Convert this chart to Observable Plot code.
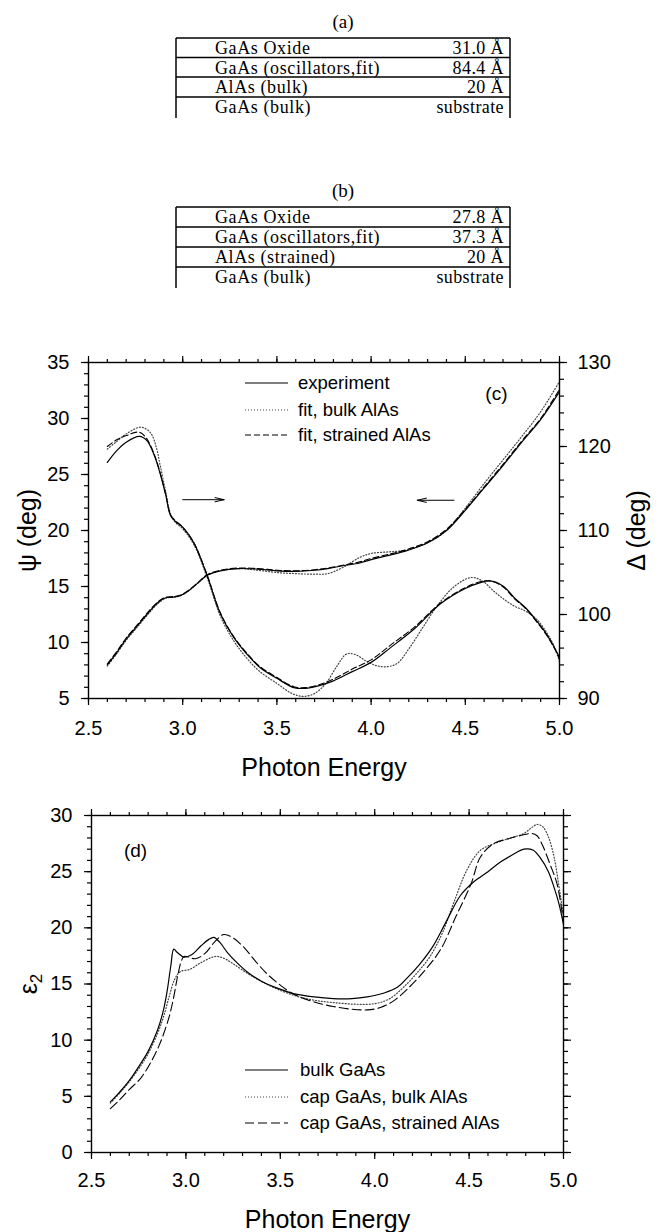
<!DOCTYPE html>
<html><head><meta charset="utf-8">
<script src="https://cdn.jsdelivr.net/npm/d3@7"></script>
<script src="https://cdn.jsdelivr.net/npm/@observablehq/plot@0.6"></script>
<style>
body{margin:0;background:#fff;}
#root{position:relative;width:663px;height:1232px;overflow:hidden;background:#fff;}
</style></head><body><div id="root"></div>
<script>
// ---------- tables ----------
const tableATitle = "(a)";
const tableALeft = ["GaAs Oxide", "GaAs (oscillators,fit)", "AlAs (bulk)", "GaAs (bulk)"];
const tableARight = ["31.0 Å", "84.4 Å", "20 Å", "substrate"];
const tableBTitle = "(b)";
const tableBLeft = ["GaAs Oxide", "GaAs (oscillators,fit)", "AlAs (strained)", "GaAs (bulk)"];
const tableBRight = ["27.8 Å", "37.3 Å", "20 Å", "substrate"];

// ---------- panel (c): Psi and Delta vs photon energy ----------
const psiE = [2.60,2.65,2.70,2.76,2.82,2.87,2.91,2.95,2.99,3.03,3.08,3.13,3.20,3.30,3.40,3.50,3.60,3.70,3.77,3.85,3.94,4.00,4.10,4.19,4.30,4.40,4.50,4.60,4.70,4.80,4.90,5.00];
const psiExp = [8.0,9.1,10.3,11.5,12.7,13.6,14.0,14.05,14.2,14.6,15.3,16.0,16.4,16.6,16.55,16.4,16.35,16.45,16.6,16.85,17.1,17.4,17.8,18.2,18.9,20.0,21.8,23.8,25.8,27.9,29.9,32.4];
const psiBulk = [7.9,9.0,10.2,11.4,12.6,13.5,13.95,14.05,14.2,14.6,15.3,16.0,16.4,16.6,16.45,16.25,16.15,16.1,16.15,16.7,17.6,17.95,18.1,18.25,18.9,20.0,22.0,24.2,26.3,28.4,30.6,33.3];
const psiStrained = [8.1,9.2,10.4,11.6,12.8,13.65,14.05,14.1,14.25,14.65,15.35,16.05,16.45,16.65,16.6,16.45,16.4,16.5,16.65,16.9,17.2,17.5,17.9,18.3,19.0,20.1,21.9,23.9,25.9,28.0,30.0,32.6];

const deltaE = [2.60,2.65,2.70,2.77,2.81,2.85,2.88,2.91,2.935,2.96,3.00,3.06,3.13,3.20,3.27,3.34,3.41,3.50,3.59,3.65,3.72,3.80,3.90,4.00,4.10,4.23,4.37,4.50,4.58,4.63,4.70,4.76,4.82,4.88,4.93,4.97,5.00];
const deltaExp = [118.1,119.5,120.5,121.2,120.7,118.9,116.8,114.2,111.8,111.1,110.4,108.5,104.6,100.1,97.3,95.3,93.7,92.4,91.3,91.2,91.5,92.1,93.2,94.3,96.0,98.3,101.3,103.1,103.8,104.0,103.4,102.0,100.8,99.2,97.7,96.2,94.9];
const deltaStrained = [120.0,120.8,121.3,121.7,120.9,119.0,116.9,114.3,111.9,111.2,110.4,108.5,104.7,100.2,97.4,95.4,93.8,92.5,91.4,91.3,91.6,92.3,93.5,94.6,96.3,98.5,101.4,103.2,103.9,104.0,103.3,101.9,100.7,99.1,97.6,96.1,94.7];
const deltaBulkE = [2.60,2.65,2.70,2.78,2.83,2.86,2.88,2.91,2.935,2.96,3.00,3.06,3.13,3.20,3.27,3.34,3.41,3.50,3.58,3.64,3.70,3.76,3.82,3.87,3.92,3.97,4.03,4.09,4.14,4.20,4.27,4.35,4.44,4.53,4.59,4.65,4.70,4.76,4.82,4.88,4.93,4.97,5.00];
const deltaBulk = [119.7,120.6,121.5,122.3,121.6,119.9,117.8,114.6,112.0,111.0,110.2,108.3,104.4,99.8,96.9,94.8,93.2,91.8,90.6,90.25,90.6,91.8,93.9,95.3,95.2,94.5,93.9,93.8,94.2,95.9,98.3,101.0,103.3,104.4,104.0,102.8,101.9,101.0,100.4,99.4,97.9,96.3,94.4];

const legendC = ["experiment", "fit, bulk AlAs", "fit, strained AlAs"];
const arrowsC = [{x1: 3.00, x2: 3.22, y: 22.75}, {x1: 4.44, x2: 4.245, y: 22.7}];

// ---------- panel (d): epsilon2 ----------
const epsBulkE = [2.60,2.65,2.70,2.76,2.80,2.85,2.88,2.90,2.92,2.936,2.955,2.99,3.03,3.08,3.12,3.148,3.18,3.22,3.27,3.33,3.40,3.48,3.57,3.68,3.78,3.88,3.96,4.05,4.12,4.17,4.24,4.31,4.38,4.455,4.525,4.60,4.666,4.73,4.79,4.84,4.878,4.92,4.95,4.975,5.00];
const epsBulk = [4.5,5.4,6.4,7.9,9.0,10.9,12.6,14.3,16.6,18.1,17.8,17.4,17.6,18.4,18.95,19.15,18.7,17.8,16.9,16.0,15.25,14.65,14.15,13.85,13.7,13.7,13.85,14.2,14.7,15.5,16.8,18.4,20.6,22.9,24.1,25.0,25.85,26.5,27.0,26.9,26.2,25.0,23.6,22.2,20.3];
const epsCapBulkE = [2.60,2.65,2.70,2.76,2.80,2.85,2.88,2.91,2.94,2.97,3.02,3.08,3.156,3.20,3.25,3.34,3.45,3.57,3.68,3.78,3.90,4.00,4.08,4.17,4.24,4.295,4.36,4.42,4.49,4.56,4.65,4.72,4.79,4.83,4.86,4.89,4.92,4.95,4.975,5.00];
const epsCapBulk = [4.4,5.3,6.3,7.7,8.8,10.6,12.0,13.8,15.4,16.1,16.3,16.9,17.45,17.3,16.8,15.8,14.8,14.0,13.55,13.35,13.2,13.25,13.7,15.0,16.3,17.5,19.6,22.3,25.2,26.9,27.6,28.0,28.4,28.9,29.2,29.0,28.1,26.3,23.8,21.0];
const epsCapStrE = [2.60,2.65,2.70,2.76,2.81,2.86,2.91,2.935,2.955,2.975,2.99,3.05,3.10,3.15,3.20,3.25,3.305,3.37,3.43,3.50,3.57,3.68,3.78,3.88,3.96,4.03,4.10,4.17,4.26,4.35,4.43,4.51,4.56,4.63,4.70,4.77,4.83,4.86,4.89,4.93,4.966,5.00];
const epsCapStr = [3.9,4.7,5.6,6.6,7.9,9.6,12.0,13.8,15.6,17.0,17.45,17.25,17.7,18.7,19.4,19.1,18.3,17.0,15.9,14.9,14.1,13.4,13.0,12.75,12.7,12.9,13.5,14.5,16.1,18.1,21.0,23.9,26.3,27.5,27.9,28.2,28.4,28.2,27.3,25.6,23.9,20.5];
const legendD = ["bulk GaAs", "cap GaAs, bulk AlAs", "cap GaAs, strained AlAs"];

// ---------- ticks ----------
const xMajor = [2.5, 3.0, 3.5, 4.0, 4.5, 5.0];
const xMinor = d3.range(25, 51).map(d => d / 10);
const psiMajor = [5, 10, 15, 20, 25, 30, 35];
const psiMinor = d3.range(5, 36);
const deltaMajor = [90, 100, 110, 120, 130];
const deltaMinor = d3.range(90, 131, 2);
const epsMajor = [0, 5, 10, 15, 20, 25, 30];
const epsMinor = d3.range(0, 31);

// ---------- helpers ----------
const SANS = "'Liberation Sans', Arial, Helvetica, sans-serif";
const SERIF = "'Liberation Serif', 'Times New Roman', Times, serif";
const zip = (xs, ys) => xs.map((e, i) => ({e, v: ys[i]}));
const toPsi = d => 5 + (d - 90) * 0.75;      // Delta (90..130) mapped onto Psi axis (5..35)
const fromPsi = v => Math.round((v - 5) / 0.75 + 90);
const blank = () => "";
const STY = {
  exp: {stroke: "black", strokeWidth: 1.2},
  bulk: {stroke: "#444", strokeWidth: 1.2, strokeDasharray: "1,2"},
  strC: {stroke: "black", strokeWidth: 1.1, strokeDasharray: "6,3"},
  strD: {stroke: "black", strokeWidth: 1.1, strokeDasharray: "9,4"}
};

const root = d3.select("#root");

function frameAxes(yMajor, yMinor, xPad, right) {
  const tk = {strokeWidth: 1.2, label: null};
  return [
    Plot.axisX({...tk, anchor: "bottom", ticks: xMajor, tickSize: 7, tickPadding: xPad, tickFormat: d3.format(".1f")}),
    Plot.axisX({...tk, anchor: "bottom", ticks: xMinor, tickSize: 4, tickFormat: blank}),
    Plot.axisX({...tk, anchor: "top", ticks: xMajor, tickSize: 7, tickFormat: blank}),
    Plot.axisX({...tk, anchor: "top", ticks: xMinor, tickSize: 4, tickFormat: blank}),
    Plot.axisY({...tk, anchor: "left", ticks: yMajor, tickSize: 7, tickPadding: 12}),
    Plot.axisY({...tk, anchor: "left", ticks: yMinor, tickSize: 4, tickFormat: blank}),
    Plot.axisY({...tk, anchor: "right", ticks: right.major, tickSize: 7, tickPadding: 11, tickFormat: right.format}),
    Plot.axisY({...tk, anchor: "right", ticks: right.minor, tickSize: 4, tickFormat: blank}),
    Plot.frame({stroke: "black", strokeWidth: 1.4})
  ];
}

function place(svg, top) {
  svg.style.position = "absolute";
  svg.style.left = "0px";
  svg.style.top = top + "px";
  root.node().appendChild(svg);
}

// ---------- panel (c) ----------
const plotC = Plot.plot({
  width: 663, height: 485,
  marginTop: 62, marginBottom: 87, marginLeft: 88, marginRight: 104,
  x: {domain: [2.5, 5]},
  y: {domain: [5, 35]},
  style: {fontFamily: SANS, fontSize: "20px", color: "black", background: "transparent"},
  marks: [
    Plot.line(zip(psiE, psiBulk), {x: "e", y: "v", curve: "catmull-rom", ...STY.bulk}),
    Plot.line(zip(deltaBulkE, deltaBulk), {x: "e", y: d => toPsi(d.v), curve: "catmull-rom", ...STY.bulk}),
    Plot.line(zip(psiE, psiStrained), {x: "e", y: "v", curve: "catmull-rom", ...STY.strC}),
    Plot.line(zip(deltaE, deltaStrained), {x: "e", y: d => toPsi(d.v), curve: "catmull-rom", ...STY.strC}),
    Plot.line(zip(psiE, psiExp), {x: "e", y: "v", curve: "catmull-rom", ...STY.exp}),
    Plot.line(zip(deltaE, deltaExp), {x: "e", y: d => toPsi(d.v), curve: "catmull-rom", ...STY.exp}),
    Plot.arrow(arrowsC, {x1: "x1", x2: "x2", y1: "y", y2: "y", stroke: "black", strokeWidth: 1, headLength: 14, headAngle: 26}),
    Plot.text(["(c)"], {text: d => d, frameAnchor: "top-right", dx: -52, dy: 31, textAnchor: "end", lineAnchor: "middle", fontSize: 19}),
    Plot.text(["Photon Energy"], {text: d => d, frameAnchor: "bottom", dy: 77, lineAnchor: "bottom", fontSize: 25}),
    Plot.text(["ψ (deg)"], {text: d => d, frameAnchor: "left", dx: -61, rotate: -90, lineAnchor: "middle", textAnchor: "middle", fontSize: 25}),
    Plot.text(["Δ (deg)"], {text: d => d, frameAnchor: "right", dx: 77, rotate: -90, lineAnchor: "middle", textAnchor: "middle", fontSize: 25}),
    ...frameAxes(psiMajor, psiMinor, 15, {major: deltaMajor.map(toPsi), minor: deltaMinor.map(toPsi), format: fromPsi})
  ]
});
place(plotC, 300);

// ---------- panel (d) ----------
const plotD = Plot.plot({
  width: 663, height: 462,
  marginTop: 45, marginBottom: 80, marginLeft: 91, marginRight: 100,
  x: {domain: [2.5, 5]},
  y: {domain: [0, 30]},
  style: {fontFamily: SANS, fontSize: "20px", color: "black", background: "transparent"},
  marks: [
    Plot.line(zip(epsCapBulkE, epsCapBulk), {x: "e", y: "v", curve: "catmull-rom", ...STY.bulk}),
    Plot.line(zip(epsCapStrE, epsCapStr), {x: "e", y: "v", curve: "catmull-rom", ...STY.strD}),
    Plot.line(zip(epsBulkE, epsBulk), {x: "e", y: "v", curve: "catmull-rom", ...STY.exp}),
    Plot.text(["(d)"], {text: d => d, frameAnchor: "top-left", dx: 44, dy: 35, textAnchor: "middle", lineAnchor: "middle", fontSize: 19}),
    Plot.text(["Photon Energy"], {text: d => d, frameAnchor: "bottom", dy: 75, lineAnchor: "bottom", fontSize: 25}),
    Plot.text(["ε2"], {text: d => d, frameAnchor: "left", dx: -63, rotate: -90, lineAnchor: "middle", textAnchor: "middle", fontSize: 25}),
    ...frameAxes(epsMajor, epsMinor, 13, {major: epsMajor, minor: epsMinor, format: blank})
  ]
});
d3.select(plotD).selectAll("text").filter(function () { return this.textContent === "ε2"; }).each(function () {
  const t = d3.select(this);
  t.text(null);
  t.append("tspan").text("ε");
  t.append("tspan").attr("font-size", "68%").attr("dy", "0.35em").text("2");
});
place(plotD, 770);

// ---------- overlay: tables and legends ----------
const over = root.append("svg").attr("width", 663).attr("height", 1232)
  .style("position", "absolute").style("left", "0px").style("top", "0px").style("pointer-events", "none");

function drawTable(title, left, right, titleY, lineYs, bottomY) {
  const g = over.append("g").attr("font-family", SERIF).attr("font-size", 18).attr("fill", "black");
  g.append("text").attr("x", 343).attr("y", titleY).attr("text-anchor", "middle").attr("font-size", 19).text(title);
  lineYs.forEach(y => g.append("line").attr("x1", 176).attr("x2", 510).attr("y1", y).attr("y2", y)
    .attr("stroke", "black").attr("stroke-width", 1.5));
  [176, 510].forEach(x => g.append("line").attr("x1", x).attr("x2", x).attr("y1", lineYs[0]).attr("y2", bottomY)
    .attr("stroke", "black").attr("stroke-width", 1.5));
  left.forEach((s, i) => g.append("text").attr("x", 215).attr("y", lineYs[i] + 16).attr("letter-spacing", 0.6).text(s));
  right.forEach((s, i) => g.append("text").attr("x", 504).attr("y", lineYs[i] + 16).attr("letter-spacing", 0.4).attr("text-anchor", "end").text(s));
}
drawTable(tableATitle, tableALeft, tableARight, 28, [38, 57.5, 77, 97], 118);
drawTable(tableBTitle, tableBLeft, tableBRight, 197, [207, 227, 247, 267], 288);

function drawLegend(labels, styles, ys, textX) {
  const g = over.append("g").attr("font-family", SANS).attr("font-size", 18.5);
  labels.forEach((s, i) => {
    const st = styles[i];
    g.append("line").attr("x1", 245).attr("x2", 288).attr("y1", ys[i]).attr("y2", ys[i])
      .attr("stroke", st.stroke).attr("stroke-width", st.strokeWidth).attr("stroke-dasharray", st.strokeDasharray || null);
    g.append("text").attr("x", textX).attr("y", ys[i]).attr("dy", "0.35em").text(s);
  });
}
drawLegend(legendC, [STY.exp, STY.bulk, STY.strC], [383, 410, 435], 298);
drawLegend(legendD, [STY.exp, STY.bulk, STY.strD], [1070, 1097, 1123], 300);
</script></body></html>
